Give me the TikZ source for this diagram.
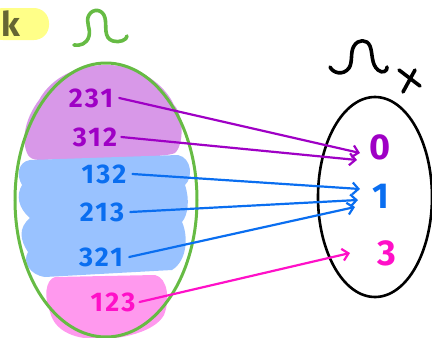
\documentclass[tikz,border=0pt]{standalone}
\usepackage{fontspec}
\setmainfont{Fira Sans}
\usetikzlibrary{arrows.meta}
\definecolor{pur}{HTML}{9F00C5}
\definecolor{purb}{HTML}{D898E8}
\definecolor{blu}{HTML}{0A6EF0}
\definecolor{blub}{HTML}{99C2FF}
\definecolor{mag}{HTML}{FF10C8}
\definecolor{magb}{HTML}{FF99EE}
\definecolor{grn}{HTML}{66BB44}
\definecolor{yel}{HTML}{FFFF88}
\definecolor{kcol}{HTML}{666633}
\tikzset{
  num/.style={font=\fontsize{27}{27}\selectfont\bfseries\addfontfeature{LetterSpace=8}, inner sep=0pt},
  big/.style={font=\fontsize{36}{36}\selectfont\bfseries, inner sep=0pt},
  arr/.style={line width=2.2pt, line cap=round, -{Straight Barb[length=6pt,width=12pt,line width=2.2pt]}},
  pen/.style={line width=3.6pt, line cap=round, line join=round},
}
\begin{document}
\begin{tikzpicture}[x=1pt,y=-1pt]
\useasboundingbox (0,0) rectangle (432,338);
% highlight k
\fill[yel, rounded corners=15pt] (-12,8) rectangle (49,40);
\node[font=\fontsize{34}{34}\selectfont\bfseries, text=kcol, inner sep=0pt, anchor=base] (k) at (11,36) {k};
% green omega
\draw[grn, pen] (74,45) .. controls (80,46) and (87,44) .. (89,36)
  .. controls (91,28) and (85,22) .. (89,15)
  .. controls (93,8) and (103,9) .. (105,18)
  .. controls (107,26) and (103,38) .. (113,41)
  .. controls (119,43) and (127,40) .. (127,36);
% blobs
\fill[purb] (28,155) .. controls (20,140) and (26,117) .. (39,100)
  .. controls (52,76) and (80,64) .. (110,65)
  .. controls (140,66) and (165,85) .. (174,105)
  .. controls (184,115) and (184,145) .. (175,153)
  .. controls (165,158) and (100,158) .. (40,160)
  .. controls (33,160) and (30,158) .. (28,155) -- cycle;
\fill[blub] (30,160) -- (178,155) .. controls (192,158) and (193,178) .. (185,185)
  .. controls (190,200) and (188,215) .. (182,222)
  .. controls (188,235) and (188,260) .. (172,270)
  -- (45,277) .. controls (30,275) and (22,262) .. (28,252)
  .. controls (20,240) and (18,228) .. (30,218)
  .. controls (18,208) and (16,195) .. (22,185)
  .. controls (16,175) and (18,162) .. (30,160) -- cycle;
\fill[magb] (55,277) -- (155,275) .. controls (168,278) and (170,300) .. (164,315)
  .. controls (155,332) and (120,340) .. (95,339)
  .. controls (65,338) and (53,325) .. (50,312)
  .. controls (44,298) and (45,280) .. (55,277) -- cycle;
% green ellipse
\draw[grn, line width=3pt] (106,200) ellipse [x radius=91, y radius=137];
% black omega x
\draw[black, pen] (330,67) .. controls (333,73) and (343,76) .. (349,68)
  .. controls (353,62) and (350,52) .. (354,46)
  .. controls (358,39) and (367,39) .. (370,46)
  .. controls (373,54) and (371,64) .. (378,70)
  .. controls (382,74) and (388,71) .. (387,67);
\draw[black, pen] (399,70) -- (420,86);
\draw[black, pen] (415,70) -- (403,92);
% black ellipse
\draw[black, line width=2.6pt] (375,197) ellipse [x radius=57, y radius=100];
% left numbers
\node[num, text=pur] (n231) at (91,98) {231};
\node[num, text=pur] (n312) at (95,137) {312};
\node[num, text=blu] (n132) at (104,174) {132};
\node[num, text=blu] (n213) at (102,212) {213};
\node[num, text=blu] (n321) at (101,257) {321};
\node[num, text=mag] (n123) at (113,302) {123};
% right values
\node[big, text=pur] (v0) at (380,147) {0};
\node[big, text=blu] (v1) at (381,196) {1};
\node[big, text=mag] (v3) at (387,253) {3};
% arrow ends
\coordinate (e1) at (360,153);
\coordinate (e2) at (357,160);
\coordinate (e3) at (360,189);
\coordinate (e4) at (358,200);
\coordinate (e5) at (355,207);
\coordinate (e6) at (350,253);
\draw[arr, pur] ([xshift=6pt]n231.east) -- (e1);
\draw[arr, pur] ([xshift=4pt]n312.east) -- (e2);
\draw[arr, blu] ([xshift=6pt]n132.east) -- (e3);
\draw[arr, blu] ([xshift=6pt]n213.east) -- (e4);
\draw[arr, blu] ([xshift=6pt]n321.east) -- (e5);
\draw[arr, mag] ([xshift=4pt]n123.east) -- (e6);
\end{tikzpicture}
\end{document}
